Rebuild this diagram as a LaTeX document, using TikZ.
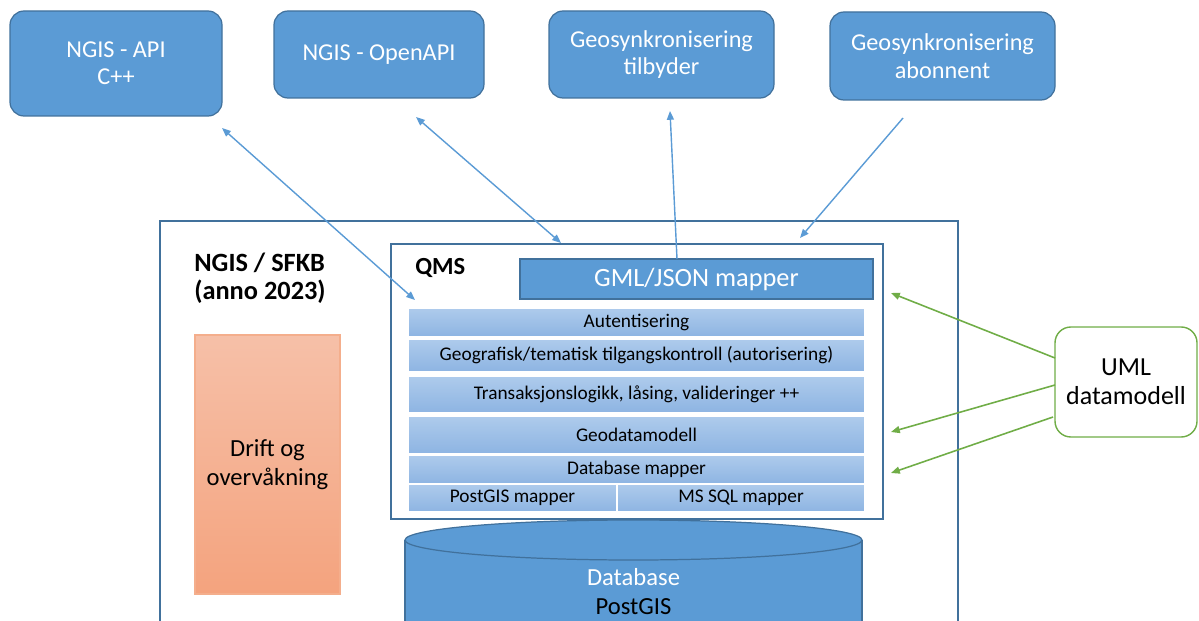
\documentclass[tikz,border=0pt]{standalone}
\usepackage{fontspec}
\setmainfont{Carlito}
\usetikzlibrary{arrows.meta}

\definecolor{accent}{HTML}{5B9BD5}
\definecolor{accentdark}{HTML}{41719C}
\definecolor{umlgreen}{HTML}{70AD47}
\definecolor{layertop}{HTML}{AECBEC}
\definecolor{layerbot}{HTML}{8DB4E2}
\definecolor{drifttop}{HTML}{F6C0A8}
\definecolor{driftbot}{HTML}{F4A37E}
\definecolor{driftline}{HTML}{F4AE8C}

\tikzset{
  % size given in drawing units (1 unit = 0.02cm)
  size/.style 2 args={inner sep=0pt, outer sep=0pt,
    minimum width={#1*0.02cm}, minimum height={#2*0.02cm}},
  topbox/.style={draw=accentdark, fill=accent, rounded corners=8pt, line width=0.7pt,
    text=white, align=center, font=\fontsize{13.8}{15.6}\selectfont},
  container/.style={draw=accentdark, line width=0.7pt},
  layer/.style={draw=white, line width=0.9pt, top color=layertop, bottom color=layerbot,
    font=\fontsize{11}{12}\selectfont, text=black},
  mapperbox/.style={draw=accentdark, fill=accent, line width=0.7pt, text=white,
    font=\fontsize{15}{17}\selectfont},
  driftbox/.style={draw=driftline, line width=0.6pt, top color=drifttop, bottom color=driftbot,
    align=center, font=\fontsize{14}{16.5}\selectfont},
  umlbox/.style={draw=umlgreen, fill=white, rounded corners=9pt, line width=0.8pt,
    align=center, font=\fontsize{14.8}{16.5}\selectfont},
  heading/.style={font=\bfseries\fontsize{15}{16}\selectfont, align=left, inner sep=0pt},
  flow/.style={draw=accent, line width=0.8pt},
  tipblue/.style={-{Triangle[length=5pt,width=4pt]}},
  tipboth/.style={{Triangle[length=5pt,width=4pt]}-{Triangle[length=5pt,width=4pt]}},
  modelflow/.style={draw=umlgreen, line width=0.9pt, -{Triangle[length=5pt,width=4pt]}},
}

\begin{document}
\begin{tikzpicture}[x=0.02cm, y=-0.02cm]
  \useasboundingbox (0,0) rectangle (1199,621);
  \clip (0,0) rectangle (1199,621);

  % external clients
  \node[topbox, size={212}{105}] (api) at (116,63.5) {NGIS - API\\C++};
  \node[topbox, size={210}{87}] (openapi) at (379,54.5) {NGIS - OpenAPI};
  \node[topbox, size={225}{87}] (tilbyder) at (661.5,54.5) {Geosynkronisering\\tilbyder};
  \node[topbox, size={225}{88}] (abonnent) at (942.5,56) {Geosynkronisering\\abonnent};

  % NGIS / SFKB system frame (runs past the lower edge)
  \draw[container] (160,660) -- (160,221) -- (958,221) -- (958,660);
  \node[heading, anchor=north west] (sysname) at (194,253) {NGIS / SFKB\\(anno 2023)};

  % operations column
  \node[driftbox, size={145}{259}] (drift) at (267.5,464.5) {Drift og\\overvåkning};

  % QMS container
  \node[container, fill=white, size={492}{275}] (qms) at (637,381.5) {};
  \node[font=\bfseries\fontsize{14}{16}\selectfont, anchor=west, inner sep=0pt] (qmslabel) at (415,268) {QMS};
  \node[mapperbox, size={353}{40}] (gml) at (696.5,279) {GML/JSON mapper};

  % QMS layers
  \node[layer, size={457}{29}] (auth) at (636.5,322.5) {Autentisering};
  \node[layer, size={457}{33}] (access) at (636.5,355.5) {Geografisk/tematisk tilgangskontroll (autorisering)};
  \node[layer, size={457}{37}] (trans) at (636.5,394.5) {Transaksjonslogikk, låsing, valideringer ++};
  \node[layer, size={457}{38}] (geomodel) at (636.5,435) {Geodatamodell};
  \node[layer, size={457}{29}] (dbmap) at (636.5,469.5) {Database mapper};
  \node[layer, size={209}{28}] (pgmap) at (512.5,498) {PostGIS mapper};
  \node[layer, size={248}{28}] (msmap) at (741,498) {MS SQL mapper};

  % database cylinder
  \fill[accent] (405,540) -- (405,660) -- (862,660) -- (862,540) -- cycle;
  \draw[accentdark, line width=0.7pt] (405,660) -- (405,540) (862,540) -- (862,660);
  \draw[accentdark, fill=accent, line width=0.7pt] (633.5,540) ellipse [x radius=228.5, y radius=20];
  \node[align=center, font=\fontsize{14}{16.5}\selectfont] (db) at (633.5,592)
    {\textcolor{white}{Database}\\PostGIS};

  % UML model
  \node[umlbox, size={142}{110}] (uml) at (1126,382) {UML\\datamodell};

  % connector end points
  \coordinate (apiEnd) at (222,128);
  \coordinate (apiIn) at (415,300);
  \coordinate (openEnd) at (416,117);
  \coordinate (openIn) at (561,243);
  \coordinate (tilbEnd) at (670,111);
  \coordinate (gmlTop) at (677,259);
  \coordinate (abonStart) at (903,118);
  \coordinate (abonIn) at (800,238);

  \draw[flow, tipboth] (apiEnd) -- (apiIn);
  \draw[flow, tipboth] (openEnd) -- (openIn);
  \draw[flow, tipblue] (gmlTop) -- (tilbEnd);
  \draw[flow, tipblue] (abonStart) -- (abonIn);

  % model feeds
  \coordinate (umlA) at (1055,358);
  \coordinate (umlB) at (1055,385);
  \coordinate (umlC) at (1053,417);
  \coordinate (toGml) at (891,293);
  \coordinate (toGeo) at (891,432);
  \coordinate (toDb) at (891,473);
  \draw[modelflow] (umlA) -- (toGml);
  \draw[modelflow] (umlB) -- (toGeo);
  \draw[modelflow] (umlC) -- (toDb);
\end{tikzpicture}
\end{document}
